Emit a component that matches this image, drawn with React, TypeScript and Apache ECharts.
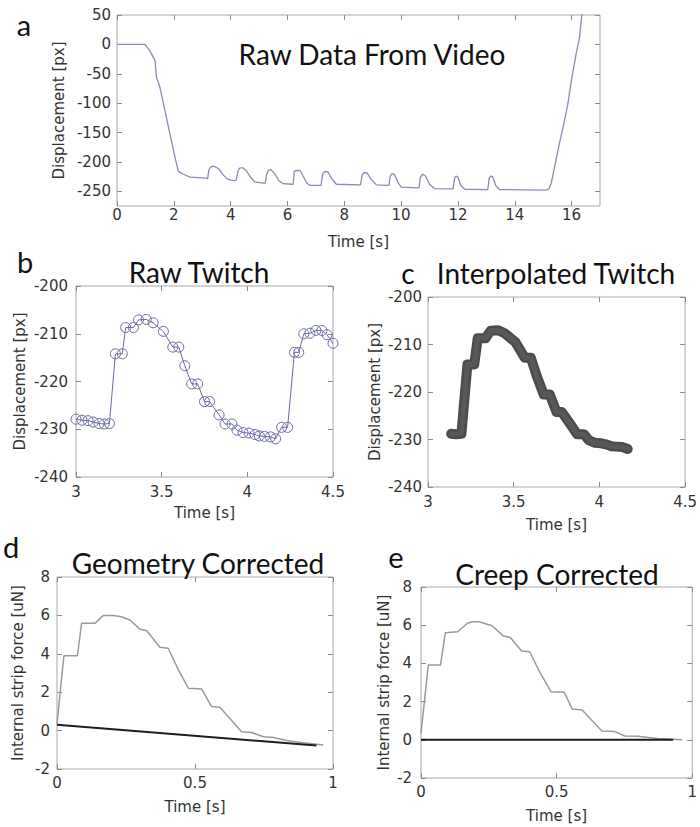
import React, { useEffect, useRef } from "react";
import * as echarts from "echarts";

// ---------- data ----------
// (a) raw displacement from video
const rawTime = [
  0, 0.98, 1.16, 1.34, 1.39, 1.51, 1.69, 1.86, 2.04, 2.16, 2.33, 2.57, 3.15,
  3.19, 3.23, 3.29, 3.4, 3.51, 3.6, 3.71, 3.78, 3.87, 4.0, 4.17,
  4.2, 4.27, 4.33, 4.43, 4.55, 4.7, 4.85, 5.15,
  5.22, 5.26, 5.33, 5.42, 5.55, 5.7, 5.85, 6.17,
  6.2, 6.24, 6.3, 6.45, 6.55, 6.68, 6.79, 7.14,
  7.18, 7.24, 7.32, 7.42, 7.55, 7.72, 8.54,
  8.57, 8.63, 8.7, 8.8, 8.95, 9.13, 9.54,
  9.57, 9.62, 9.68, 9.76, 9.9, 10.01, 10.6,
  10.63, 10.68, 10.76, 10.86, 11.0, 11.18, 11.83,
  11.85, 11.88, 11.93, 12.0, 12.1, 12.24, 13.02,
  13.05, 13.1, 13.15, 13.22, 13.33, 13.46, 15.1,
  15.2, 15.28, 15.4, 15.57, 15.75, 15.87, 15.99, 16.16, 16.28, 16.38,
];
const rawDisp = [
  0, 0, -11, -28, -56, -73, -113, -152, -192, -216, -221, -226, -227.5,
  -228.8, -214.2, -208.7, -207, -209.5, -212.8, -220.5, -224.2, -228.9, -230.8, -232,
  -229.6, -213.9, -210, -210, -215, -226, -234, -236,
  -236, -222, -214, -213, -220, -232, -237, -238,
  -238, -216, -214.5, -215, -224, -236, -240, -240,
  -240, -220, -216, -216.5, -228, -238, -239,
  -239, -222, -218, -218.5, -230, -239, -240,
  -240, -224, -220, -221, -236, -243, -244,
  -244, -226, -221, -224, -238, -245.5, -246,
  -246, -228, -224, -226, -240, -246.5, -247,
  -247, -228, -224, -225, -240, -247, -248,
  -246, -237, -209, -169, -130, -101, -62, -16, 12, 60,
];

// (b) raw twitch samples
const twitchTime = [
  3.0, 3.035, 3.07, 3.1, 3.135, 3.165, 3.195, 3.23, 3.27, 3.29, 3.335, 3.365, 3.41,
  3.45, 3.51, 3.565, 3.6, 3.635, 3.675, 3.71, 3.75, 3.78, 3.835, 3.87, 3.91, 3.94,
  3.975, 4.01, 4.045, 4.07, 4.1, 4.135, 4.165, 4.2, 4.235, 4.275, 4.3, 4.33, 4.365,
  4.4, 4.435, 4.465, 4.5,
];
const twitchDisp = [
  -227.9, -228.1, -228.2, -228.5, -228.8, -228.9, -228.8, -214.2, -214.2, -208.7,
  -208.7, -207.1, -207.0, -207.7, -209.5, -212.8, -212.8, -216.7, -220.5, -220.5,
  -224.2, -224.2, -227.0, -228.9, -228.9, -230.2, -230.7, -230.8, -231.1, -231.4,
  -231.5, -231.6, -232.0, -229.6, -229.6, -213.9, -213.9, -210.0, -209.9, -209.3,
  -209.3, -210.2, -212.0,
];
// (c) interpolated twitch window
const interpWindow = [3.13, 4.17];

// (d) geometry corrected force + creep baseline
const geomTime = [
  0, 0.025, 0.074, 0.089, 0.138, 0.168, 0.204, 0.234, 0.264, 0.301, 0.325, 0.373,
  0.403, 0.44, 0.476, 0.524, 0.56, 0.59, 0.669, 0.705, 0.748, 0.784, 0.832, 0.892, 0.965,
];
const geomForce = [
  0.35, 3.9, 3.9, 5.59, 5.59, 6.0, 6.0, 5.93, 5.76, 5.28, 5.2, 4.34, 4.29, 3.16,
  2.2, 2.17, 1.25, 1.22, -0.06, -0.1, -0.32, -0.36, -0.52, -0.63, -0.75,
];
const geomBaseTime = [0, 0.94];
const geomBaseForce = [0.3, -0.78];

// (e) creep corrected force + zero baseline
const creepTime = [
  0, 0.027, 0.072, 0.09, 0.135, 0.171, 0.19, 0.214, 0.262, 0.304, 0.329, 0.371,
  0.401, 0.437, 0.479, 0.528, 0.558, 0.594, 0.667, 0.715, 0.751, 0.8, 0.872, 0.963,
];
const creepForce = [
  0.34, 3.92, 3.92, 5.61, 5.66, 6.1, 6.18, 6.18, 5.97, 5.43, 5.36, 4.65, 4.61,
  3.57, 2.52, 2.49, 1.61, 1.56, 0.46, 0.43, 0.2, 0.18, 0.07, 0.0,
];
const creepBaseTime = [0, 0.93];
const creepBaseForce = [0, 0];

// tick values
const aXTicks = [0, 2, 4, 6, 8, 10, 12, 14, 16];
const aYTicks = [50, 0, -50, -100, -150, -200, -250];
const twitchXTicks = [3, 3.5, 4, 4.5];
const twitchYTicks = [-200, -210, -220, -230, -240];
const forceXTicks = [0, 0.5, 1];
const forceYTicks = [-2, 0, 2, 4, 6, 8];

const zip = (xs: number[], ys: number[]) => xs.map((x, i) => [x, ys[i]]);

const LABEL_FONT = "DejaVu Sans";
const TITLE_FONT = "Lato";

export default function App() {
  const ref = useRef<HTMLDivElement>(null);

  useEffect(() => {
    if (!ref.current) return;
    const chart = echarts.init(ref.current, null, { renderer: "svg" });

    const grids = [
      { left: 117, top: 15, width: 483, height: 191 },
      { left: 76, top: 286, width: 257, height: 191 },
      { left: 428, top: 297, width: 260, height: 190 },
      { left: 57, top: 577, width: 276, height: 192 },
      { left: 421, top: 587, width: 276, height: 191 },
    ].map((g) => ({
      ...g,
      show: true,
      borderColor: "#a8a8a8",
      borderWidth: 1,
      backgroundColor: "transparent",
    }));

    const panels = [
      { xr: [0, 17], yr: [-275, 50], xt: aXTicks, yt: aYTicks, yName: "Displacement [px]", xGap: 28, yGap: 46, xMargin: 1, yMargin: 6 },
      { xr: [3, 4.5], yr: [-240, -200], xt: twitchXTicks, yt: twitchYTicks, yName: "Displacement [px]", xGap: 28, yGap: 49, xMargin: 7, yMargin: 8 },
      { xr: [3, 4.5], yr: [-240, -200], xt: twitchXTicks, yt: twitchYTicks, yName: "Displacement [px]", xGap: 30, yGap: 46, xMargin: 7, yMargin: 6 },
      { xr: [0, 1], yr: [-2, 8], xt: forceXTicks, yt: forceYTicks, yName: "Internal strip force [uN]", xGap: 30, yGap: 32, xMargin: 6, yMargin: 7 },
      { xr: [0, 1], yr: [-2, 8], xt: forceXTicks, yt: forceYTicks, yName: "Internal strip force [uN]", xGap: 30, yGap: 30, xMargin: 6, yMargin: 9 },
    ];

    const tickStyle = { color: "#8c8c8c", width: 1 };
    const labelStyle = { color: "#333333", fontSize: 15, fontFamily: LABEL_FONT };
    const nameStyle = { color: "#333333", fontSize: 15, fontFamily: LABEL_FONT };

    const xAxis: any[] = [];
    const yAxis: any[] = [];
    panels.forEach((p, i) => {
      xAxis.push({
        type: "value", gridIndex: i, min: p.xr[0], max: p.xr[1], position: "bottom",
        name: "Time [s]", nameLocation: "middle", nameGap: p.xGap, nameTextStyle: nameStyle,
        axisLine: { show: false, onZero: false }, splitLine: { show: false },
        axisTick: { show: true, inside: true, length: 5, lineStyle: tickStyle, customValues: p.xt },
        axisLabel: { show: true, margin: p.xMargin, customValues: p.xt, ...labelStyle },
      });
      xAxis.push({
        type: "value", gridIndex: i, min: p.xr[0], max: p.xr[1], position: "top",
        axisLine: { show: false, onZero: false }, splitLine: { show: false },
        axisTick: { show: true, inside: true, length: 5, lineStyle: tickStyle, customValues: p.xt },
        axisLabel: { show: false },
      });
      yAxis.push({
        type: "value", gridIndex: i, min: p.yr[0], max: p.yr[1], position: "left",
        name: p.yName, nameLocation: "middle", nameGap: p.yGap, nameTextStyle: nameStyle,
        axisLine: { show: false, onZero: false }, splitLine: { show: false },
        axisTick: { show: true, inside: true, length: 5, lineStyle: tickStyle, customValues: p.yt },
        axisLabel: { show: true, margin: p.yMargin, customValues: p.yt, ...labelStyle },
      });
      yAxis.push({
        type: "value", gridIndex: i, min: p.yr[0], max: p.yr[1], position: "right",
        axisLine: { show: false, onZero: false }, splitLine: { show: false },
        axisTick: { show: true, inside: true, length: 5, lineStyle: tickStyle, customValues: p.yt },
        axisLabel: { show: false },
      });
    });

    const interpData = zip(twitchTime, twitchDisp).filter(
      (d) => d[0] >= interpWindow[0] && d[0] <= interpWindow[1]
    );

    const series: any[] = [
      {
        type: "line", xAxisIndex: 0, yAxisIndex: 0, data: zip(rawTime, rawDisp),
        showSymbol: false, clip: true,
        lineStyle: { color: "#8a8ab8", width: 1.3 },
      },
      {
        type: "line", xAxisIndex: 2, yAxisIndex: 2, data: zip(twitchTime, twitchDisp),
        symbol: "circle", symbolSize: 10, showSymbol: true, clip: true,
        lineStyle: { color: "#6a6aa8", width: 1 },
        itemStyle: { color: "rgba(0,0,0,0)", borderColor: "#6a6aa8", borderWidth: 1 },
      },
      {
        type: "line", xAxisIndex: 4, yAxisIndex: 4, data: interpData,
        showSymbol: false,
        lineStyle: { color: "#383838", width: 10, cap: "round", join: "round", opacity: 0.9 },
      },
      {
        type: "line", xAxisIndex: 4, yAxisIndex: 4, data: interpData,
        showSymbol: false,
        lineStyle: { color: "#585858", width: 5, cap: "round", join: "round" },
      },
      {
        type: "line", xAxisIndex: 6, yAxisIndex: 6, data: zip(geomTime, geomForce),
        showSymbol: false, lineStyle: { color: "#9a9a9a", width: 1.5 },
      },
      {
        type: "line", xAxisIndex: 6, yAxisIndex: 6, data: zip(geomBaseTime, geomBaseForce),
        showSymbol: false, lineStyle: { color: "#1e1e1e", width: 2 },
      },
      {
        type: "line", xAxisIndex: 8, yAxisIndex: 8, data: zip(creepTime, creepForce),
        showSymbol: false, lineStyle: { color: "#9a9a9a", width: 1.5 },
      },
      {
        type: "line", xAxisIndex: 8, yAxisIndex: 8, data: zip(creepBaseTime, creepBaseForce),
        showSymbol: false, lineStyle: { color: "#1e1e1e", width: 2 },
      },
    ];

    const txt = (text: string, x: number, y: number, size: number, align = "center") => ({
      type: "text", x, y, silent: true,
      style: {
        text, fill: "#111", fontSize: size, fontFamily: TITLE_FONT,
        align, verticalAlign: "middle",
      },
    });

    chart.setOption({
      animation: false,
      backgroundColor: "#ffffff",
      grid: grids,
      xAxis,
      yAxis,
      series,
      graphic: [
        txt("a", 24, 24, 29),
        txt("Raw Data From Video", 372, 54, 28),
        txt("b", 25, 261, 29),
        txt("Raw Twitch", 199, 272, 28),
        txt("c", 408, 273, 28),
        txt("Interpolated Twitch", 556, 273, 28),
        txt("d", 11, 546, 29),
        txt("Geometry Corrected", 198, 563, 28),
        txt("e", 396, 556, 29),
        txt("Creep Corrected", 557, 574, 28),
      ],
    });

    return () => chart.dispose();
  }, []);

  return (
    <div
      ref={ref}
      style={{ position: "fixed", left: 0, top: 0, width: 700, height: 827, background: "#fff" }}
    />
  );
}
